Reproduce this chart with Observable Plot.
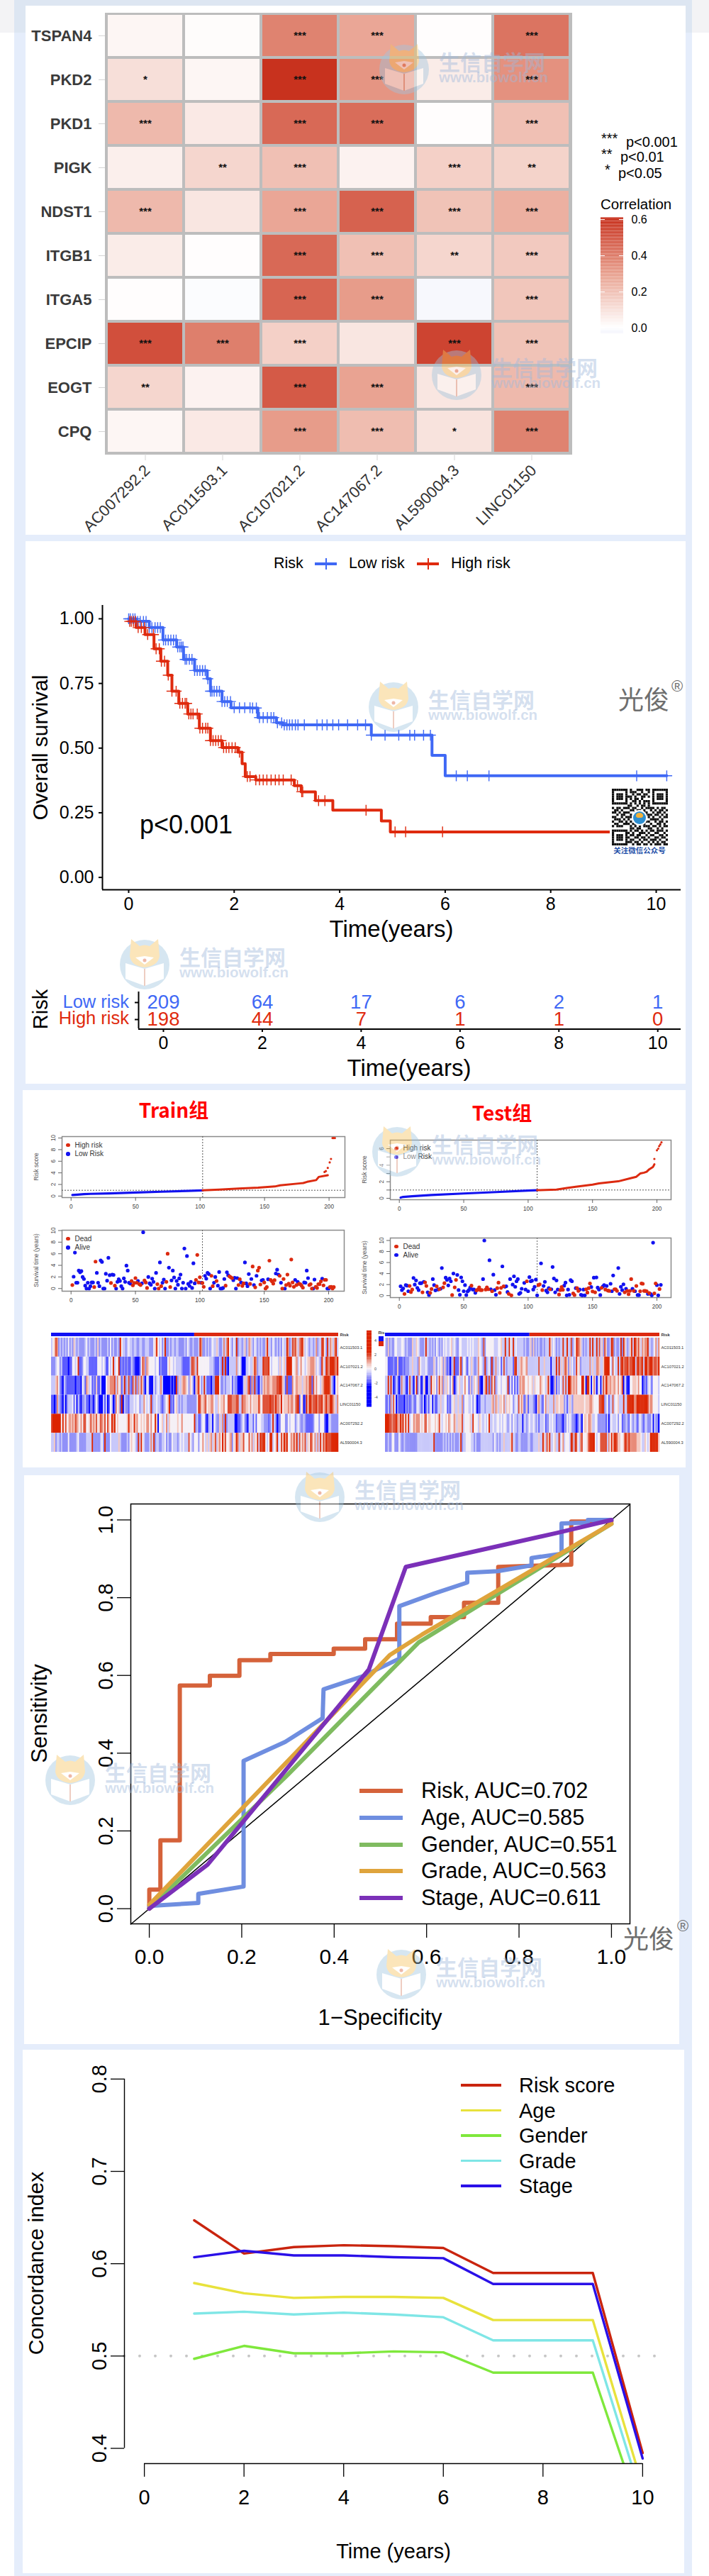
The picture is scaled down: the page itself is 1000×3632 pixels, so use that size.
<!DOCTYPE html>
<html><head><meta charset="utf-8">
<script src="https://cdn.jsdelivr.net/npm/d3@7"></script>
<script src="https://cdn.jsdelivr.net/npm/@observablehq/plot@0.6"></script>
<style>
html,body{margin:0;padding:0;background:#fff}
#page{position:relative;width:1000px;height:3632px;overflow:hidden;background:#fff;font-family:"Liberation Sans",sans-serif}
#page svg{max-width:none}
</style></head><body><div id="page"></div>
<script>
// ---------- heat map of correlations ----------
const genes=["TSPAN4","PKD2","PKD1","PIGK","NDST1","ITGB1","ITGA5","EPCIP","EOGT","CPQ"];
const lncs=["AC007292.2","AC011503.1","AC107021.2","AC147067.2","AL590004.3","LINC01150"];
const corrValues=[
[.03,.01,.38,.28,.005,.42],
[.10,.03,.6,.33,.06,.34],
[.22,.07,.45,.44,.005,.20],
[.05,.13,.2,.04,.15,.14],
[.22,.08,.28,.47,.19,.25],
[.06,.005,.45,.2,.13,.17],
[.005,-.01,.46,.31,-.02,.18],
[.52,.39,.15,.08,.55,.19],
[.13,.04,.49,.29,.08,.22],
[.03,.07,.31,.21,.09,.38]];
const corrStars=[
["","","***","***","","***"],
["*","","***","***","","***"],
["***","","***","***","","***"],
["","**","***","","***","**"],
["***","","***","***","***","***"],
["","","***","***","**","***"],
["","","***","***","","***"],
["***","***","***","","***","***"],
["**","","***","***","","***"],
["","","***","***","*","***"]];
const corrTicks=[0,.2,.4,.6];
// ---------- Kaplan-Meier ----------
const lowT=[0,.14,.39,.65,.91,1.04,1.25,1.49,1.55,1.77,1.94,2.32,2.45,2.8,2.92,4.6,5.75,6.0,10.2];
const lowS=[1,.99,.966,.918,.891,.843,.80,.768,.72,.68,.656,.655,.618,.598,.59,.55,.472,.393,.393];
const highT=[0,.14,.31,.48,.61,.74,.82,.95,1.12,1.34,1.55,1.77,2.07,2.15,2.21,2.41,3.0,3.14,3.27,3.54,3.87,4.79,4.96,10.2];
const highS=[.99,.966,.939,.884,.836,.782,.72,.673,.632,.577,.529,.502,.484,.44,.39,.377,.377,.355,.331,.297,.26,.218,.176,.176];
const lowCensor=[0,.03,.08,.12,.17,.22,.28,.33,.39,.44,.5,.55,.6,.66,.7,.75,.8,.85,.9,.93,.97,1,1.03,1.07,1.1,1.15,1.2,1.25,1.3,1.35,1.4,1.45,1.5,1.55,1.58,1.62,1.67,1.72,1.77,1.82,1.87,1.93,2,2.1,2.2,2.3,2.35,2.42,2.48,2.55,2.63,2.7,2.75,2.82,2.9,2.95,3,3.05,3.1,3.16,3.21,3.33,3.57,3.67,3.76,3.87,3.98,4.15,4.34,4.49,4.6,4.86,5.12,5.33,5.42,5.59,5.72,6.21,6.42,6.83,9.63,10.2];
const highCensor=[.02,.05,.09,.13,.18,.24,.3,.36,.47,.52,.58,.62,.68,.75,.82,.9,.97,1.02,1.07,1.1,1.14,1.18,1.22,1.3,1.35,1.4,1.46,1.5,1.55,1.6,1.65,1.7,1.75,1.8,1.85,1.9,1.96,2.02,2.1,2.25,2.3,2.41,2.48,2.55,2.62,2.7,2.78,2.85,2.93,3.08,3.2,3.28,3.3,3.6,3.72,4.5,5.05,5.25,5.95];
const tableTimes=[0,2,4,6,8,10];
const tableLow=[209,64,17,6,2,1];
const tableHigh=[198,44,7,1,1,0];
const riskRows=["Low risk","High risk"];
// ---------- risk score curves ----------
const trainLowCurve=[[1,.18],[5,.25],[10,.33],[15,.38],[30,.45],[50,.6],[70,.75],[90,.88],[102,.98]];
const trainHighCurve=[[102,.98],[115,1.1],[130,1.3],[145,1.45],[158,1.65],[162,1.85],[178,2.2],[180,2.25],[183,2.45],[190,2.75],[192,3.3],[199,3.6]];
const trainTail=[[196.5,4.15],[197.5,4.3],[199,4.85],[200.5,5.8],[201.5,6.4],[202.7,10],[203.5,10],[204.5,10]];
const testLowCurve=[[1,.08],[3,.17],[10,.25],[25,.4],[50,.58],[75,.75],[100,.93],[107,.98]];
const testHighCurve=[[107,.98],[122,1.05],[130,1.25],[137,1.4],[150,1.65],[155,1.8],[170,2.05],[180,2.45],[184,2.6],[187,3],[190,3.1],[192,3.2],[194,3.5],[197,3.8],[198,4.1]];
const testTail=[[198,4.76],[200,5.8],[201,6],[201.7,6.3],[202.6,6.5],[203.5,6.76]];
// ---------- survival scatter ----------
const trainAlive=[[2,2.05],[3,6.2],[4,1],[5,1],[6,3.1],[7,2.8],[8,3],[9,2],[10,1.65],[11,.5],[12,0],[13,1],[14,0],[15,.4],[16,1.05],[17,1.05],[20,2.7],[21,1],[22,.4],[23,4.85],[24,4.6],[25,0],[26,0],[27,2.55],[28,1.35],[29,5.3],[30,2.3],[32,2.4],[33,2.35],[35,0],[36,1.15],[37,1.6],[38,1.3],[39,.4],[40,0],[41,1.75],[42,1.15],[43,3.95],[44,3.1],[45,1],[46,.85],[52,1.3],[55,.9],[56,9.7],[60,2],[61,.9],[62,.65],[63,1.7],[64,1.15],[65,0],[66,2.7],[69,4.5],[71,1],[72,1.55],[73,0],[76,3.6],[78,1.4],[79,3.1],[80,1.9],[81,0],[82,1.3],[83,.65],[84,1.75],[85,2.4],[86,0],[87,1],[88,6.9],[89,0],[90,5.6],[91,.8],[92,.45],[93,1.15],[94,.1],[95,4.35],[96,.9],[101,1],[104,2.2],[105,1.7],[106,2.7],[107,2.5],[108,0],[111,1],[112,2],[114,.5],[115,2.85],[116,0],[117,0],[118,.1],[119,1.65],[121,2.8],[122,2.3],[126,1.45],[127,1.85],[128,0],[129,1.8],[132,1.05],[135,4.5],[136,.9],[137,.4],[138,2.5],[140,1.65],[142,.6],[144,2.2],[148,1.4],[149,1.5],[153,1.6],[159,2.6],[160,3.25],[161,2.4],[163,1],[166,0],[174,1.5],[176,1.15],[181,1.05],[182,1],[183,3.1],[184,1.8],[188,0],[189,1.55],[195,1.7],[199,0],[200,0]];
const trainDead=[[1,.6],[18,.25],[19,4.65],[31,.95],[34,.5],[47,1.3],[48,.55],[49,.95],[50,1.8],[51,1],[53,.75],[54,.6],[57,1.4],[58,1.05],[59,.1],[67,.75],[68,0],[70,.4],[74,1.15],[75,6],[77,.25],[97,1.5],[98,5.8],[99,1.05],[100,1.95],[102,.95],[103,.3],[109,2.2],[110,.4],[113,1.3],[120,.5],[123,2.1],[124,1.95],[125,1.8],[130,.6],[131,1.6],[133,.45],[134,.9],[139,.8],[141,3.8],[143,.2],[145,3.1],[146,3.6],[147,.7],[150,1.05],[151,0],[152,.25],[154,4.8],[155,1.5],[156,1.25],[157,.85],[158,1.45],[162,2.2],[164,0],[165,1.65],[167,.6],[168,2.4],[169,.85],[170,.5],[171,5],[172,1.05],[173,.3],[175,.6],[177,.8],[178,.75],[179,.5],[180,.15],[185,.6],[186,.75],[187,0],[190,.3],[191,.1],[192,.75],[193,.75],[194,1.25],[196,.55],[197,1.5],[198,1.5],[201,.25],[202,.3],[203,0],[204,.25]];
const testAlive=[[1,1.7],[2,1],[3,1.3],[5,1.9],[6,1.8],[7,.8],[11,3.2],[12,2],[13,2.75],[14,1.4],[15,1],[16,2.25],[17,2.25],[19,2.5],[22,.6],[23,.1],[26,3],[27,1.9],[28,.95],[30,1.1],[32,1.25],[33,5],[36,3.25],[37,2.85],[38,1.85],[39,3.1],[40,2.6],[42,4],[45,3.75],[46,1],[47,.15],[48,3.3],[49,2.6],[50,.8],[51,1.9],[52,.1],[53,.75],[54,1],[55,1.45],[57,1.1],[58,1.1],[59,.5],[65,3],[66,10],[70,6.4],[71,1.15],[73,3.8],[74,1],[75,.15],[80,5.3],[82,1.6],[83,1.7],[84,.65],[86,3],[88,2],[89,3.5],[90,1.6],[91,2.6],[92,3],[93,.3],[94,.5],[95,1.25],[97,2.3],[98,1.1],[100,.8],[101,3.35],[102,2.6],[103,2.7],[104,1.1],[105,1.6],[106,2.9],[107,.05],[110,5.85],[112,1.75],[113,2.5],[114,.9],[115,.6],[116,1.35],[118,1.15],[119,5.2],[120,3.1],[121,.6],[122,2.75],[123,1.1],[128,1.8],[129,2.35],[130,.05],[131,1.1],[132,.15],[133,2.8],[134,2.6],[137,1.35],[140,1.1],[141,.15],[142,.05],[143,1.1],[144,.05],[149,1.55],[151,3.25],[153,3.3],[154,1.45],[155,1.1],[156,.1],[158,1.65],[159,1.9],[161,1.75],[164,2.15],[165,.8],[166,3.65],[170,5],[171,.3],[172,1.6],[173,1],[174,2.05],[176,1.25],[181,1.25],[183,.8],[185,.1],[186,.1],[193,.3],[195,.3],[196,.05],[197,9.6],[200,1.9],[201,.05],[203,1.95]];
const testDead=[[4,.3],[8,1.75],[9,.65],[10,1.1],[18,.6],[20,2.4],[21,1.75],[24,.5],[25,1.2],[29,1.7],[31,1.15],[34,1.5],[35,2.25],[41,.1],[43,1.5],[44,2.85],[56,1.8],[60,.95],[61,1.1],[62,1.5],[63,1],[64,1],[67,1.1],[68,1.5],[69,1.15],[72,.8],[76,1.35],[77,2.35],[78,.5],[79,1.4],[81,1.7],[85,.3],[87,.05],[99,2.6],[108,1.9],[109,2.05],[111,1],[117,1.15],[124,.2],[125,1],[126,1.55],[127,1.05],[135,.4],[136,.1],[138,1.35],[139,.85],[145,1.15],[146,.55],[147,1.35],[148,2.2],[150,.75],[152,.6],[157,1.4],[160,1.1],[162,.9],[163,.85],[167,1.15],[168,1.15],[169,.85],[175,.6],[177,.85],[178,.25],[179,.85],[180,3],[182,.85],[184,1.75],[187,.8],[188,2.2],[189,2.15],[190,.85],[191,.85],[192,.8],[194,.45],[198,.4],[199,2.2],[202,1.2]];
// ---------- expression stripes (level 0 = blue ... 4 = white ... 8 = red) ----------
const stripeGenes=["AC011503.1","AC107021.2","AC147067.2","LINC01150","AC007292.2","AL590004.3"];
const trainStripes=[
"3457623232 3242325323 2222342322 2325232222 3242322328 4332343323 3223322333 2224584342 3822323323 3222232432 2322238622 3232343353 2236368432 4382332352 3653243232 3225833243 2323243386 2376753678 5343233236 2338742836 53683",
"2223442311 1101144348 1124433111 1114443431 1434834481 2121211321 0001476265 4444344121 1114544343 3332111113 7763844444 4443332111 3282810333 3363430003 3433586233 3877784344 4435345388 8844563464 4345566653 4328538768 88768",
"3335642103 2111111011 1043165341 2151130004 5566673645 1382372173 7263751043 0004234363 0000010108 2535665425 4205684238 3111022888 4223233341 3220000353 6816282103 2565665566 6778753171 1164565553 5565771746 4435688886 31045",
"1101632103 0233341403 1022311021 0242000313 0143016451 8032213334 3442336434 3823343321 2345812145 3232333222 2222487556 7455664335 4556447776 6677337665 5464555585 4777778776 8665845556 5664678145 0185886778 6778568668 86536",
"7888888484 7456565765 4647744575 6574576574 7548684544 4444585548 5644545466 4644850445 3463544444 5446444444 4482311344 1023304322 5362823333 3001123421 0333141444 3322212383 2012444224 3444234322 3211111244 4244410033 22222",
"3352332322 2242222234 2222233338 2222234282 2243333353 2222324544 3283843222 3638233223 3423224333 2343433374 3244424464 3535635735 6485744562 4586355744 4746354838 7884348834 5834758684 4657583746 5735486463 6384768777 88888"];
const testStripes=[
"3252322443 3344323222 5335432223 8332323243 2324343345 3432244333 3434343335 4327244444 4333445338 3384383433 3332322352 5232322323 3385343232 3383383372 3487653232 3383833837 3527522387 2322382853 2358387575 3656683323 4636",
"4411112115 1112122233 5333264333 4322225324 3452521202 3811158244 2143532236 4432823428 2363341373 2333317833 5654563333 3333733353 3330333838 3536752534 2384523333 3363533665 3358888437 4338378677 8677883786 7838867886 7768",
"3383830132 0263310373 2048141035 0032845425 7462535424 6013453346 4415235436 1004682727 4723443444 3814141313 6566445445 3544465443 5830015132 4373738865 6564448840 8840463034 0375865655 6546457041 0044555464 4012134314 4443",
"2131637402 1111021212 3213432130 1313403113 3533441213 4533533624 4433424301 1333233335 6365355463 5454423437 4651251333 2105632146 3533363554 5552313532 5555555545 5566544447 7882341337 3445333833 8888866888 8888875664 4443",
"8887767786 5868484834 4656664546 7455444545 7434454654 4653555734 4445384443 5433434833 4334434344 3234243323 3303323433 4323133341 2243433122 2102243432 2101320455 4665334422 2222130343 3342441223 2143233124 3213322240 3220",
"2232244222 4322322222 2222333333 3333338222 2223232323 2322238233 4444332322 2333333333 2432323353 3335833223 3222223322 3333533853 7583345338 3463444387 3874367444 5788884344 7777736485 8875544587 6866666555 4335434888 8885"];
const stripeLevels=[0,1,2,3,4,5,6,7,8];
const stripePalette=["#0000ff","#5c5cff","#9090f8","#c8c8fa","#f5f0f6","#f4c8c0","#e88a78","#dd4a30","#dc2400"];
const barTicks=[4,2,0,-2,-4];
// ---------- ROC ----------
const rocSeries=[
{name:"Risk, AUC=0.702",color:"#d5623a",x:[0,0,.024,.024,.066,.066,.131,.131,.195,.195,.262,.262,.399,.399,.467,.467,.536,.536,.609,.609,.681,.681,.755,.755,.913,.913,1],y:[0,.049,.049,.176,.176,.574,.574,.599,.599,.639,.639,.655,.655,.669,.669,.693,.693,.733,.733,.75,.75,.787,.787,.879,.885,.996,.996]},
{name:"Age, AUC=0.585",color:"#6f8ee0",x:[0,.106,.106,.204,.204,.294,.375,.377,.46,.541,.541,.617,.688,.688,.754,.827,.827,.892,.892,.949,.949,1],y:[.007,.015,.038,.057,.38,.429,.49,.564,.597,.643,.778,.811,.839,.864,.868,.883,.902,.913,.991,.993,1,1]},
{name:"Gender, AUC=0.551",color:"#7fbb60",x:[0,.3,.583,1],y:[0,.345,.685,.99]},
{name:"Grade, AUC=0.563",color:"#dfa43c",x:[0,.521,.59,1],y:[.01,.653,.705,.99]},
{name:"Stage, AUC=0.611",color:"#7b30b8",x:[0,.126,.475,.555,.88,1],y:[0,.113,.615,.879,.966,1]}];
const rocTicks=[0,.2,.4,.6,.8,1];
// ---------- C-index ----------
const cYears=[1,2,3,4,5,6,7,8,9,10];
const cSeries=[
{name:"Risk score",color:"#c9240e",v:[.647,.611,.618,.62,.619,.617,.59,.59,.59,.395]},
{name:"Age",color:"#e8e23c",v:[.579,.568,.563,.564,.564,.563,.539,.539,.539,.359]},
{name:"Gender",color:"#7fe83c",v:[.497,.511,.503,.503,.505,.504,.482,.482,.482,.322]},
{name:"Grade",color:"#7fe6e6",v:[.546,.548,.545,.547,.545,.542,.517,.517,.517,.344]},
{name:"Stage",color:"#2a10e8",v:[.607,.614,.609,.609,.607,.606,.578,.578,.578,.389]}];
// small square code printed on the picture
const qrRows=["1111111010011101101111111","1000001011100100101000001","1011101001011011001011101","1011101110100110101011101","1011101010110100001011101","1000001001101011101000001","1111111010101010101111111","0000000110010110100000000","1011011101100101111010110","0110100011011010010101101","1101011100110111001011010","0010110010000001110110101","1100101110000000101001011","0111010100000000011110100","1001101010000001100101101","0110011101110110010011010","1011100010101011101101011","0000000011011000110010100","1111111010110101011011101","1000001101001110100110010","1011101011011001011001101","1011101100110110100110110","1011101011001011011101001","1000001110110100101010110","1111111001011011010111011"];

// ---------- helpers ----------
const FONT='"Liberation Sans",Arial,sans-serif';
const CJK='"Noto Sans CJK SC",sans-serif';
const page=document.getElementById("page");
function box(x,y,w,h,bg,extra){const d=document.createElement("div");d.style.cssText=`position:absolute;left:${x}px;top:${y}px;width:${w}px;height:${h}px;background:${bg};${extra||""}`;page.append(d);return d;}
function T(x,y,str,o={}){const d=document.createElement("div");
 const a=o.anchor||"middle";const tx=a==="start"?"0":a==="end"?"-100%":"-50%";
 d.textContent=str;
 d.style.cssText=`position:absolute;left:${x}px;top:${y}px;white-space:nowrap;line-height:1;font-family:${o.family||FONT};font-size:${o.size||16}px;color:${o.color||"#000"};font-weight:${o.weight||"normal"};transform:translate(${tx},-50%) rotate(${o.rotate||0}deg);${o.extra||""}`;
 page.append(d);return d;}
function chart([l,t,r,b],[ml,mr,mt,mb],opts){
 const svg=Plot.plot({width:r-l+ml+mr,height:b-t+mt+mb,marginLeft:ml,marginRight:mr,marginTop:mt,marginBottom:mb,
  style:{background:"transparent",fontFamily:FONT,overflow:"visible",color:"#000",...(opts.styleExtra||{})},...opts});
 svg.style.position="absolute";svg.style.left=(l-ml)+"px";svg.style.top=(t-mt)+"px";page.append(svg);return svg;}
const xy=a=>a.map(([x,y])=>({x,y}));

// ---------- background ----------
box(0,0,20,46,"#f3f3f5");box(976,0,24,46,"#f3f3f5");
box(20,0,956,3632,"#e5edfb");box(20,0,956,46,"#dde6f2");
box(36,8,931,746,"#fff");
box(36,763,931,765,"#fff");
box(32,1537,935,532,"#fff");
box(34,2080,924,802,"#fff");
box(32,2890,933,738,"#fff");

// ---------- 1 heat map ----------
const corrColor={type:"linear",domain:[-.05,0,.3,.6],range:["#eceefa","#ffffff","#e8a08e","#c8321e"]};
const corrCells=genes.flatMap((g,i)=>lncs.map((c,j)=>({g,c,v:corrValues[i][j],s:corrStars[i][j]})));
chart([148,18,806,640],[110,10,6,125],{
 x:{type:"band",domain:lncs,padding:0,axis:null},
 y:{type:"band",domain:genes,padding:0,axis:null},
 color:corrColor,
 marks:[
  Plot.frame({fill:"#bdbdbd",stroke:"#bdbdbd"}),
  Plot.cell(corrCells,{x:"c",y:"g",fill:"v",inset:2}),
  Plot.text(corrCells.filter(d=>d.s),{x:"c",y:"g",text:"s",fontSize:15,fontWeight:"bold",fill:"#111"}),
  Plot.axisY({anchor:"left",tickSize:9,tickPadding:10,fontSize:22,fontWeight:"bold",stroke:"#d4d4d4",fill:"#3a3a3a",label:null}),
  Plot.axisX({anchor:"bottom",tickSize:9,tickFormat:()=>"",stroke:"#d4d4d4",label:null}),
  Plot.text(lncs,{x:d=>d,frameAnchor:"bottom",rotate:-45,textAnchor:"end",fontSize:22,fill:"#333",dx:8,dy:24})
 ]});
T(848,195,"***",{size:20,anchor:"start"});T(883,200,"p<0.001",{size:20,anchor:"start"});
T(848,217,"**",{size:20,anchor:"start"});T(875,221,"p<0.01",{size:20,anchor:"start"});
T(853,239,"*",{size:20,anchor:"start"});T(872,244,"p<0.05",{size:20,anchor:"start"});
T(847,288,"Correlation",{size:20.5,anchor:"start"});
const corrSteps=d3.range(-.03,.61,.005).map(v=>({v}));
chart([847,307,879,470],[0,36,2,2],{
 x:{axis:null},
 y:{domain:[-.031,.608],axis:null},
 color:corrColor,
 marks:[
  Plot.rectY(corrSteps,{y1:d=>d.v,y2:d=>d.v+.0055,x1:0,x2:1,fill:"v"}),
  Plot.ruleY(corrTicks,{stroke:"#fff",insetRight:26}),
  Plot.ruleY(corrTicks,{stroke:"#fff",insetLeft:26}),
  Plot.axisY({anchor:"right",ticks:corrTicks,tickSize:0,tickPadding:11,fontSize:16,tickFormat:d3.format(".1f"),label:null})
 ]});

// ---------- 2 Kaplan-Meier ----------
const LOW="#3f68f5",HIGH="#df2a0e";
const stepAt=(T_,S_,t)=>{let s=S_[0];T_.forEach((u,i)=>{if(u<=t)s=S_[i];});return s;};
const lowLine=lowT.map((t,i)=>({t,s:lowS[i]})),highLine=highT.map((t,i)=>({t,s:highS[i]}));
const lowMarks=lowCensor.map(t=>({t,s:stepAt(lowT,lowS,t)})),highMarks=highCensor.map(t=>({t,s:stepAt(highT,highS,t)}));
chart([144,853,960,1254],[100,20,5,30],{
 x:{domain:[-.497,10.47],axis:null},
 y:{domain:[-.0477,1.052],axis:null},
 marks:[
  Plot.line(lowLine,{x:"t",y:"s",curve:"step-after",stroke:LOW,strokeWidth:4}),
  Plot.line(highLine,{x:"t",y:"s",curve:"step-after",stroke:HIGH,strokeWidth:4}),
  Plot.dot(lowMarks,{x:"t",y:"s",symbol:"plus",r:5,stroke:LOW,strokeWidth:1.4}),
  Plot.dot(highMarks,{x:"t",y:"s",symbol:"plus",r:5,stroke:HIGH,strokeWidth:1.4}),
  Plot.ruleX([-.497],{stroke:"#000",strokeWidth:2}),
  Plot.ruleY([-.0477],{stroke:"#000",strokeWidth:2}),
  Plot.axisY({ticks:[0,.25,.5,.75,1],tickSize:5,tickPadding:7,fontSize:25,tickFormat:d3.format(".2f"),strokeWidth:2,label:null}),
  Plot.axisX({ticks:[0,2,4,6,8,10],tickSize:5,tickPadding:6,fontSize:25,strokeWidth:2,label:null})
 ]});
T(57,1054,"Overall survival",{size:30,rotate:-90});
T(552,1309,"Time(years)",{size:33});
T(197,1163,"p<0.001",{size:36,anchor:"start"});
// legend
T(386,795,"Risk",{size:21.5,anchor:"start"});
box(444,793,31,4,LOW);box(459,787,1.5,16,LOW);T(492,795,"Low risk",{size:21.5,anchor:"start"});
box(588,793,31,4,HIGH);box(603,787,1.5,16,HIGH);T(636,795,"High risk",{size:21.5,anchor:"start"});
// number at risk
const tableData=[...tableTimes.map((t,i)=>({t,r:"Low risk",n:tableLow[i]})),...tableTimes.map((t,i)=>({t,r:"High risk",n:tableHigh[i]}))];
chart([195,1398,960,1450],[170,20,5,40],{
 x:{domain:[-.502,10.47],axis:null},
 y:{type:"point",domain:riskRows,padding:0,range:[5+15,5+39],axis:null},
 color:{type:"ordinal",domain:riskRows,range:[LOW,HIGH]},
 marks:[
  Plot.text(tableData,{x:"t",y:"r",text:"n",fill:"r",fontSize:27.5}),
  Plot.ruleX([-.502],{stroke:"#000",strokeWidth:2}),
  Plot.axisY({tickSize:5,tickPadding:8,fontSize:25.5,tickFormat:()=>"",strokeWidth:2,label:null}),
  Plot.axisX({ticks:tableTimes,tickSize:5,tickPadding:6,fontSize:25,strokeWidth:2,label:null})
 ]});
box(195,1449.5,765,2,"#000");
T(182,1413,"Low risk",{size:25.5,anchor:"end",color:LOW});
T(182,1436,"High risk",{size:25.5,anchor:"end",color:HIGH});
T(57,1423,"Risk",{size:29,rotate:-90});
T(577,1505,"Time(years)",{size:33});

// ---------- 3 risk panels ----------
const R_RED="#dc2a10",R_BLUE="#1212f0",TICK="#444",FR="#8a8a8a";
function riskScore(frame,xd,yd,low,high,tail,cutX,yTickLabels,yTicks){
 chart(frame,[30,8,4,24],{x:{domain:xd,axis:null},y:{domain:yd,axis:null},
  marks:[
   Plot.frame({stroke:FR,strokeWidth:1.5}),
   Plot.ruleX([cutX],{stroke:"#555",strokeDasharray:"2 2"}),
   Plot.ruleY([1],{stroke:"#555",strokeDasharray:"2 2"}),
   Plot.line(xy(low),{x:"x",y:"y",stroke:R_BLUE,strokeWidth:3.2}),
   Plot.line(xy(high),{x:"x",y:"y",stroke:R_RED,strokeWidth:3}),
   Plot.dot(xy(tail),{x:"x",y:"y",fill:R_RED,r:1.6}),
   Plot.axisX({ticks:[0,50,100,150,200],tickSize:5,tickPadding:5,fontSize:8.2,stroke:"#666",fill:TICK,label:null}),
   Plot.axisY({ticks:yTicks,tickSize:5,tickPadding:5,tickRotate:-90,fontSize:8.2,stroke:"#666",fill:TICK,label:null,tickFormat:d=>yTickLabels.includes(d)?d:""})
  ]});
}
function survival(frame,xd,yd,alive,dead,cutX){
 chart(frame,[30,8,4,24],{x:{domain:xd,axis:null},y:{domain:yd,axis:null},
  marks:[
   Plot.frame({stroke:FR,strokeWidth:1.5}),
   Plot.ruleX([cutX],{stroke:"#666",strokeDasharray:"2 2"}),
   Plot.dot(xy(alive),{x:"x",y:"y",fill:R_BLUE,r:2.6}),
   Plot.dot(xy(dead),{x:"x",y:"y",fill:R_RED,r:2.6}),
   Plot.axisX({ticks:[0,50,100,150,200],tickSize:5,tickPadding:5,fontSize:8.2,stroke:"#666",fill:TICK,label:null}),
   Plot.axisY({ticks:[0,2,4,6,8,10],tickSize:5,tickPadding:5,tickRotate:-90,fontSize:8.2,stroke:"#666",fill:TICK,label:null})
  ]});
}
function legendDots(x,y1,y2,a,ca,b,cb){
 box(x-2.7,y1-2.7,5.4,5.4,ca,"border-radius:50%");box(x-2.7,y2-2.7,5.4,5.4,cb,"border-radius:50%");
 T(x+9.5,y1,a,{size:10,anchor:"start",color:"#333"});T(x+9.5,y2,b,{size:10,anchor:"start",color:"#333"});
}
function stripes(frame,rows,n,cut,labels){
 const cells=rows.flatMap((s,r)=>{const c=s.replace(/ /g,"");return [...c].map((ch,i)=>({a:i*n/c.length,b:(i+1)*n/c.length,r,v:+ch}));});
 chart(frame,[2,40,2,2],{
  x:{domain:[0,n],axis:null},y:{domain:[6,-.26],axis:null},
  color:{type:"linear",domain:stripeLevels,range:stripePalette},
  marks:[
   Plot.rect(cells,{x1:"a",x2:d=>d.b+.15,y1:"r",y2:d=>d.r+1,fill:"v"}),
   Plot.rect([{a:0,b:cut}],{x1:"a",x2:"b",y1:-.26,y2:-.075,fill:"#1010f4"}),
   Plot.rect([{a:cut,b:n}],{x1:"a",x2:"b",y1:-.26,y2:-.075,fill:"#dc2a10"}),
   Plot.text(stripeGenes.map((g,i)=>({g,i})),{x:n,y:d=>d.i+.5,text:"g",textAnchor:"start",dx:2,fontSize:5.8,fill:"#333"}),
   Plot.text(["Risk"],{x:n,y:-.17,text:d=>d,textAnchor:"start",dx:2,fontSize:5.8,fontWeight:"bold",fill:"#333"})
  ]});
}
T(245,1564,"Train组",{size:28,weight:"bold",color:"#f00",family:CJK});
T(708,1568,"Test组",{size:28,weight:"bold",color:"#f00",family:CJK});
// train
riskScore([87,1602,486,1688],[-7,212.3],[-.26,10.25],trainLowCurve,trainHighCurve,trainTail,102,[0,2,4,6,8,10],[0,2,4,6,8,10]);
T(51,1645,"Risk score",{size:8.5,rotate:-90,color:"#555"});
legendDots(96,1614.5,1627,"High risk",R_RED,"Low Risk",R_BLUE);
survival([87,1734,485,1820],[-7,212.1],[-.46,10.06],trainAlive,trainDead,102);
T(51,1777,"Survival time (years)",{size:8.3,rotate:-90,color:"#555"});
legendDots(96,1746.5,1759,"Dead",R_RED,"Alive",R_BLUE);
stripes([72,1879,477,2047],trainStripes,205,102.2);
// test
const testTicks=[0,1,2,3,4,5,6];
riskScore([550,1607,946,1691],[-7,210.97],[-.17,7.03],testLowCurve,testHighCurve,testTail,107,[0,2,4,6],testTicks);
T(514,1649,"Risk score",{size:8.5,rotate:-90,color:"#555"});
legendDots(559,1619.3,1631.4,"High risk",R_RED,"Low Risk",R_BLUE);
survival([550,1745,946,1829],[-7,210.97],[-.36,10.45],testAlive,testDead,107);
T(514,1787,"Survival time (years)",{size:8.3,rotate:-90,color:"#555"});
legendDots(559,1757.6,1769.7,"Dead",R_RED,"Alive",R_BLUE);
stripes([543,1879,930,2047],testStripes,204,107.4);
// stripe colour bar
const barSteps=d3.range(-5.25,5.3,.25).map(v=>({v,l:Math.max(0,Math.min(8,4+v*1.6))}));
chart([517,1878,524,1983],[0,0,0,0],{x:{axis:null},y:{domain:[-5.2,5.3],axis:null},
 color:{type:"linear",domain:stripeLevels,range:stripePalette},
 marks:[Plot.rect(barSteps,{x1:0,x2:1,y1:"v",y2:d=>d.v+.27,fill:"l"})]});
barTicks.forEach((v,i)=>T(528,1891+i*20,String(v),{size:5.5,anchor:"start",color:"#444"}));
T(533.5,1880,"Ris",{size:5.8,anchor:"start",weight:"bold",color:"#333"});
box(534,1884,7,7,"#1010f4");box(534,1891,7,7,"#dc2a10");

// ---------- 4 ROC ----------
chart([184,2120,888,2712],[70,10,4,80],{
 x:{domain:[-.04,1.04],axis:null},y:{domain:[-.039,1.041],axis:null},
 marks:[
  Plot.frame({stroke:"#000",strokeWidth:1.5}),
  Plot.line([{x:-.04,y:-.04},{x:1.04,y:1.04}],{x:"x",y:"y",stroke:"#000",strokeWidth:1.5}),
  ...rocSeries.map(s=>Plot.line(s.x.map((x,i)=>({x,y:s.y[i]})),{x:"x",y:"y",stroke:s.color,strokeWidth:6})),
  Plot.axisX({ticks:rocTicks,tickSize:20,tickPadding:15,fontSize:30,tickFormat:d3.format(".1f"),strokeWidth:1.3,label:null}),
  Plot.axisY({ticks:rocTicks,tickSize:19,tickPadding:7,tickRotate:-90,fontSize:29,tickFormat:d3.format(".1f"),strokeWidth:1.3,label:null})
 ]});
T(55,2416,"Sensitivity",{size:31,rotate:-90});
T(536,2844,"1−Specificity",{size:31});
rocSeries.forEach((s,i)=>{const y=2525+i*37.8;box(507,y-3,61,6,s.color);T(594,y,s.name,{size:30.8,anchor:"start"});});

// ---------- 5 C-index ----------
chart([175,2891,934,3473],[70,20,4,130],{
 x:{domain:[-.4,10.4],axis:null},y:{domain:[.3835,.8306],axis:null},
 marks:[
  Plot.ruleY([.5],{stroke:"#c6c6c6",strokeWidth:4,strokeDasharray:"0 22",strokeLinecap:"round"}),
  ...cSeries.map(s=>Plot.line(cYears.map((x,i)=>({x,y:s.v[i]})),{x:"x",y:"y",stroke:s.color,strokeWidth:3.4,clip:true})),
  Plot.ruleX([-.4],{y1:.4,y2:.8,stroke:"#000",strokeWidth:1.4}),
  Plot.ruleY([.3835],{x1:0,x2:10,stroke:"#000",strokeWidth:1.4}),
  Plot.axisX({ticks:[0,2,4,6,8,10],tickSize:19,tickPadding:18,fontSize:29,strokeWidth:1.3,label:null}),
  Plot.axisY({ticks:[.4,.5,.6,.7,.8],tickSize:19,tickPadding:7,tickRotate:-90,fontSize:29,tickFormat:d3.format(".1f"),strokeWidth:1.3,label:null})
 ]});
T(51,3191,"Concordance index",{size:30,rotate:-90});
T(555,3597,"Time (years)",{size:29});
cSeries.forEach((s,i)=>{const y=2940+i*35.5;box(650,y-1.75,57,3.5,s.color);T(732,y,s.name,{size:29,anchor:"start"});});

// ---------- QR and marks of origin ----------
box(860,1108,85,96,"#fff");
const qrCells=qrRows.flatMap((row,r)=>[...row].map((c,k)=>({r,k,c})).filter(d=>d.c==="1"));
chart([863,1112,942,1192],[0,0,0,0],{x:{domain:[0,25],axis:null},y:{domain:[25,0],axis:null},
 marks:[Plot.rect(qrCells,{x1:"k",x2:d=>d.k+1,y1:"r",y2:d=>d.r+1,fill:"#111"})]});
box(891,1142,22,22,"#fff","border-radius:50%");
box(893,1144,18,18,"#2f8fd0","border-radius:50%");
box(897,1146,10,7,"#f3b23a","border-radius:50% 50% 40% 40%");
T(902,1199,"关注微信公众号",{size:10.5,weight:"bold",color:"#1f4fa8",family:CJK});
function brand(x,y,rx,ry){T(x,y,"光俊",{size:36,color:"#6e6e6e",family:CJK});T(rx,ry,"®",{size:22,color:"#6e6e6e"});}
brand(908,984,955,968);
brand(915,2731,963,2716);

function wm(cx,cy){
 const d=document.createElement("div");
 d.style.cssText=`position:absolute;left:${cx-39}px;top:${cy-39}px;width:78px;height:78px;opacity:.42;pointer-events:none`;
 d.innerHTML=`<svg width="78" height="78" viewBox="0 0 78 78"><circle cx="39" cy="42" r="35" fill="#9fc6e0"/><path d="M18 30 L20 6 L32 16 Q39 13 46 16 L58 6 L60 30 Q58 44 39 46 Q20 44 18 30Z" fill="#f6c25c"/><path d="M26 32 L39 42 L52 32 L39 30Z" fill="#fff"/><path d="M12 40 L39 48 L66 40 L66 62 L39 72 L12 62Z" fill="#fff"/><path d="M38 48 L40 48 L40 72 L38 72Z" fill="#d98a70"/><circle cx="39" cy="36" r="2.5" fill="#d9552f"/></svg>`;
 page.append(d);
 T(cx+49,cy-9,"生信自学网",{size:30,weight:"bold",color:"rgba(160,185,220,.45)",family:CJK,anchor:"start"});
 T(cx+49,cy+14,"www.biowolf.cn",{size:20.5,weight:"bold",color:"rgba(160,185,220,.45)",anchor:"start"});
}
[[570,95],[644,526],[555,994],[204,1357],[560,1621],[451,2108],[99,2507],[566,2781]].forEach(([x,y])=>wm(x,y));
</script></body></html>
